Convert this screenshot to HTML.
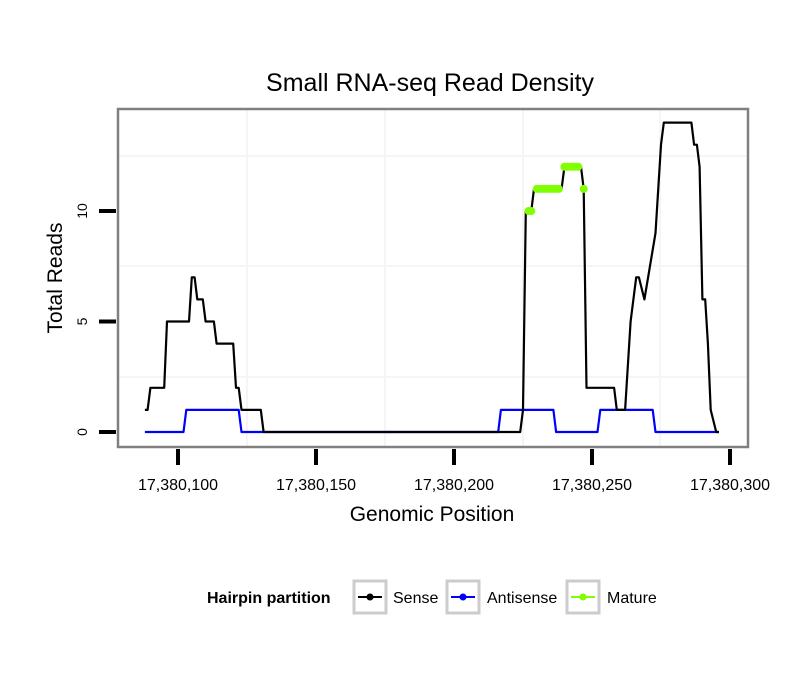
<!DOCTYPE html>
<html><head><meta charset="utf-8"><style>
body{margin:0;background:#fff;font-family:"Liberation Sans",sans-serif}
svg{display:block}
</style></head><body>
<svg id="c" width="810" height="690" xmlns="http://www.w3.org/2000/svg">
<rect width="810" height="690" fill="#fff"/>
<text x="430" y="91" font-size="25" text-anchor="middle" fill="#000">Small RNA-seq Read Density</text>
<g id="grid"></g>
<g id="series"></g>
<rect x="118" y="109" width="630" height="338" fill="none" stroke="#808080" stroke-width="2.5"/>
<g id="axes"></g>
<text x="432" y="521" font-size="21" text-anchor="middle">Genomic Position</text>
<text transform="translate(62,278) rotate(-90)" font-size="21" text-anchor="middle">Total Reads</text>
<g>
<text x="207" y="603" font-size="16" font-weight="bold">Hairpin partition</text>
<g>
<rect x="354" y="581" width="32" height="32" fill="#fff" stroke="#cccccc" stroke-width="3"/>
<line x1="358" y1="597" x2="382" y2="597" stroke="#000" stroke-width="2"/><circle cx="370" cy="597" r="3.5" fill="#000"/>
<text x="393" y="603" font-size="16">Sense</text></g>
<g>
<rect x="447" y="581" width="32" height="32" fill="#fff" stroke="#cccccc" stroke-width="3"/>
<line x1="451" y1="597" x2="475" y2="597" stroke="#0000ff" stroke-width="2"/><circle cx="463" cy="597" r="3.5" fill="#0000ff"/>
<text x="487" y="603" font-size="16">Antisense</text></g>
<g>
<rect x="567" y="581" width="32" height="32" fill="#fff" stroke="#cccccc" stroke-width="3"/>
<line x1="571" y1="597" x2="595" y2="597" stroke="#7fff00" stroke-width="2"/><circle cx="583" cy="597" r="3.5" fill="#7fff00"/>
<text x="607" y="603" font-size="16">Mature</text></g>
</g>
</svg>
<script>
const senseX=[88,89,90,95,96,104,105,106,107,109,110,113,114,120,121,122,123,130,131,224,225,226,227,228,229,239,240,246,247,248,258,259,262,264,266,267,269,273,275,276,286,287,288,289,290,291,292,293,295,296];
const senseY=[1,1,2,2,5,5,7,7,6,6,5,5,4,4,2,2,1,1,0,0,1,10,10,10,11,11,12,12,11,2,2,1,1,5,7,7,6,9,13,14,14,13,13,12,6,6,4,1,0,0];
const antiX=[88,102,103,122,123,216,217,236,237,252,253,272,273,296];
const antiY=[0,0,1,1,0,0,1,1,0,0,1,1,0,0];
const matureX=[227,228,230,231,232,233,234,235,236,237,238,240,241,242,243,244,245,247];
const matureY=[10,10,11,11,11,11,11,11,11,11,11,12,12,12,12,12,12,11];
const xTicks=[17380100,17380150,17380200,17380250,17380300];
const xTickLabels=["17,380,100","17,380,150","17,380,200","17,380,250","17,380,300"];
const yTicks=[0,5,10];
const NS="http://www.w3.org/2000/svg";
function sx(p){return 178+(p-100)*2.76;}
function sxAbs(v){return sx(v-17380000);}
function sy(v){return 432-v*22.1;}
function mk(t,a,parent){const e=document.createElementNS(NS,t);for(const k in a)e.setAttribute(k,a[k]);parent.appendChild(e);return e;}
const grid=document.getElementById('grid'),series=document.getElementById('series'),axes=document.getElementById('axes');
[247,385,523,660].forEach(x=>{const l=mk('line',{x1:x,y1:110,x2:x,y2:446,stroke:'#f5f5f5','stroke-width':2},grid);

});
[156,266,377].forEach(y=>{const l=mk('line',{x1:119,y1:y,x2:747,y2:y,stroke:'#f5f5f5','stroke-width':2},grid);

});
function path(xs,ys,color,name){const d=xs.map((x,i)=>(i?'L':'M')+sx(x).toFixed(1)+','+sy(ys[i]).toFixed(1)).join(' ');
const p=mk('path',{d:d,fill:'none',stroke:color,'stroke-width':2.2,'stroke-linejoin':'round'},series);

}
path(antiX,antiY,'#0000ff','antisense-line');
path(senseX,senseY,'#000','sense-line');
matureX.forEach((x,i)=>{const c=mk('circle',{cx:sx(x),cy:sy(matureY[i]),r:4,fill:'#7fff00'},series);

});
xTicks.forEach((v,i)=>{const x=sxAbs(v);
const t=mk('line',{x1:x,y1:449,x2:x,y2:465,stroke:'#000','stroke-width':4},axes);


const l=mk('text',{x:x,y:490,'font-size':16,'text-anchor':'middle'},axes);l.textContent=xTickLabels[i];

});
yTicks.forEach(v=>{const y=sy(v);
const t=mk('line',{x1:99,y1:y,x2:116,y2:y,stroke:'#000','stroke-width':4},axes);


const l=mk('text',{transform:'translate(87,'+y+') rotate(-90)','font-size':14,'text-anchor':'middle'},axes);l.textContent=String(v);

});
</script>
</body></html>
